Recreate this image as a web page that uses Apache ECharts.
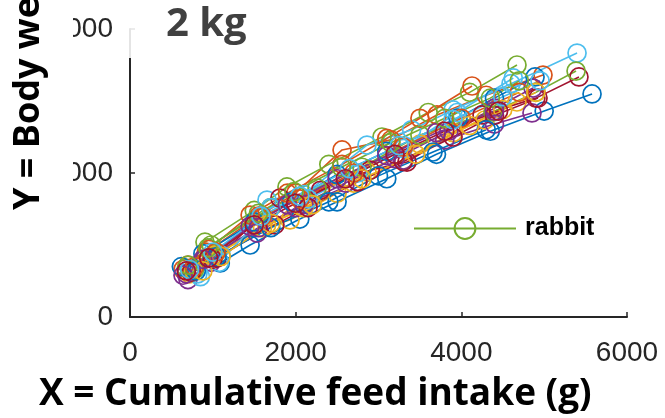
<!DOCTYPE html>
<html>
<head>
<meta charset="utf-8">
<script src="https://cdn.jsdelivr.net/npm/echarts@6/dist/echarts.min.js"></script>
<style>html,body{margin:0;padding:0;background:#fff;}#c{width:665px;height:418px;}</style>
</head>
<body>
<div id="c"></div>
<script>
// ---- data ----
const titleText = '2 kg';
const xName = 'X = Cumulative feed intake (g)';
const yName = 'Y = Body weight (g)';
const legendName = 'rabbit';
const xTicks = [0, 2000, 4000, 6000];
const yTicks = [0, 1000, 2000];
const palette = ['#0072BD', '#D95319', '#EDB120', '#7E2F8E', '#77AC30', '#4DBEEE', '#A2142F'];
const rabbitNames = ['r01','r02','r03','r04','rabbit','r06','r07','r08','r09','r10','r11','r12','r13','r14','r15','r16','r17','r18','r19','r20','r21'];
const feedIntake = [
  [1090,1450,2050,2500,3100,3700,4350,5000,5578],
  [640,920,1550,2000,2560,3150,3706,4300,4986],
  [720,1000,1600,1932,2500,2861,3500,4286,4672],
  [700,980,1533,2000,2600,3200,3850,4400,4866],
  [680,905,1500,1895,2400,3042,3600,4100,4672],
  [820,1100,1654,2100,2861,3400,3900,4600,5397],
  [760,1050,1810,2300,2900,3344,4250,4900,5420],
  [620,880,1500,1950,2500,3100,3960,4400,4890],
  [700,950,1450,1900,2560,3100,3500,4129],
  [760,1020,1650,2100,2700,3300,3900,4500],
  [680,900,1550,2100,2750,3300,3800,4400,4853],
  [780,980,1700,2258,2800,3500,4382,4900,5385],
  [850,1080,1700,2150,2750,3300,3950,4627],
  [740,1000,1750,2150,2750,3300,3900,4400,4926],
  [800,1050,1700,2400,3000,3658,4300],
  [780,1040,1600,2050,2700,3300,4000,4700],
  [880,1100,1700,2200,2800,3450,4100,4900],
  [640,880,1450,1900,2500,3100,3700,4400],
  [700,940,1550,1980,2550,3150,3800,4350,4700],
  [720,1000,1580,2050,2650,3250,3900,4500,4950],
  [680,950,1500,2000,2600,3200,3800,4450]
];
const bodyWeight = [
  [375,500,680,800,960,1130,1290,1430,1549],
  [330,450,700,860,1160,1230,1403,1540,1680],
  [300,420,620,674,860,1007,1200,1368,1493],
  [260,380,583,760,930,1100,1290,1450,1590],
  [340,520,740,903,1060,1250,1420,1560,1750],
  [300,430,812,850,1194,1300,1438,1620,1833],
  [330,410,826,880,1020,1076,1403,1520,1667],
  [350,440,660,800,990,1150,1382,1520,1667],
  [360,470,708,860,1060,1240,1380,1604],
  [330,430,640,760,930,1090,1280,1440],
  [300,400,620,780,940,1090,1230,1340,1417],
  [330,500,760,896,1040,1264,1424,1560,1708],
  [280,380,760,820,1000,1170,1420,1660],
  [310,400,640,760,940,1080,1250,1400,1520],
  [320,420,620,800,980,1146,1300],
  [350,450,700,820,1000,1180,1380,1560],
  [320,420,650,780,960,1130,1330,1560],
  [290,400,630,780,960,1120,1280,1430],
  [360,480,720,870,1040,1210,1380,1520,1640],
  [330,450,700,840,1030,1190,1370,1530,1640],
  [320,410,640,790,960,1130,1290,1430]
];

// ---- chart ----
const chart = echarts.init(document.getElementById('c'), null, {renderer: 'canvas'});
const series = feedIntake.map((xs, i) => {
  const c = palette[i % palette.length];
  return {
    type: 'line',
    name: rabbitNames[i],
    data: xs.map((x, j) => [x, bodyWeight[i][j]]),
    symbol: 'circle',
    symbolSize: 18,
    showSymbol: true,
    animation: false,
    itemStyle: {color: 'rgba(0,0,0,0)', borderColor: c, borderWidth: 1.7},
    lineStyle: {color: c, width: 1.6},
    emphasis: {disabled: true},
    z: 2
  };
});
const plainNum = v => String(v);
const axisCommon = {
  axisLine: {show: true, lineStyle: {color: '#262626', width: 2}},
  axisTick: {show: true, inside: true, length: 5, lineStyle: {color: '#262626', width: 1.5}},
  splitLine: {show: false},
  axisLabel: {color: '#262626', fontSize: 28, fontFamily: 'Liberation Sans', formatter: plainNum}
};
chart.setOption({
  animation: false,
  backgroundColor: '#fff',
  title: {
    text: titleText, left: 166, top: 5, padding: 0,
    textStyle: {fontFamily: 'Open Sans', fontWeight: 'bold', fontSize: 40, color: '#404040'}
  },
  grid: {left: 130, right: 38, top: 29, bottom: 101, containLabel: false, outerBoundsMode: 'none'},
  xAxis: Object.assign({}, axisCommon, {
    type: 'value', min: xTicks[0], max: xTicks[xTicks.length - 1], interval: 2000,
    axisLabel: Object.assign({}, axisCommon.axisLabel, {margin: 22})
  }),
  yAxis: Object.assign({}, axisCommon, {
    type: 'value', min: yTicks[0], max: yTicks[yTicks.length - 1], interval: 1000,
    axisLabel: Object.assign({}, axisCommon.axisLabel, {margin: 17})
  }),
  legend: {
    data: [legendName], left: 413, top: 216, padding: 0,
    itemWidth: 102, itemHeight: 26, selectedMode: false,
    textStyle: {fontFamily: 'Liberation Sans', fontWeight: 'bold', fontSize: 25, color: '#000', padding: [0, 0, 0, 4]}
  },
  graphic: [
    {type: 'rect', shape: {x: 0, y: 0, width: 73, height: 200}, style: {fill: '#fff'}, z: 100},
    {type: 'rect', shape: {x: 124, y: 20, width: 12, height: 38}, style: {fill: 'rgba(255,255,255,0.88)'}, z: 100},
    {type: 'text', x: 29, y: 210, rotation: Math.PI / 2, z: 101,
      style: {text: yName, fontFamily: 'Open Sans', fontWeight: 'bold', fontSize: 36, fill: '#000', textAlign: 'left', textVerticalAlign: 'middle'}},
    {type: 'text', x: 39, y: 394, z: 101,
      style: {text: xName, fontFamily: 'Open Sans', fontWeight: 'bold', fontSize: 37, fill: '#000', textAlign: 'left', textVerticalAlign: 'middle'}}
  ],
  series: series
});
</script>
</body>
</html>
